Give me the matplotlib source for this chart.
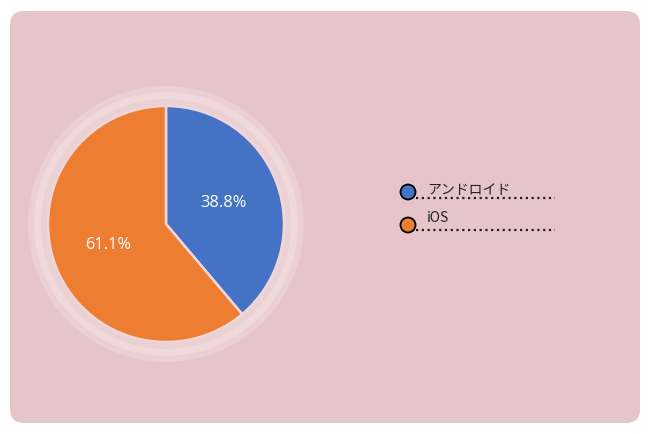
import matplotlib
matplotlib.use("Agg")
import matplotlib.pyplot as plt
from matplotlib.patches import FancyBboxPatch, Circle
import numpy as np

categories = ["アンドロイド", "iOS"]
values = [38.8, 61.1]
colors = ["#4472C4", "#ED7D31"]

W, H = 650, 434
fig = plt.figure(figsize=(W / 100, H / 100), dpi=100)
fig.patch.set_facecolor("white")
ax = fig.add_axes([0, 0, 1, 1])
ax.set_xlim(0, W)
ax.set_ylim(0, H)
ax.set_aspect("equal")
ax.axis("off")

def Y(y):
    return H - y

# panel
panel = FancyBboxPatch((10 + 14, Y(423) + 14), 630 - 28, 412 - 28,
                       boxstyle="round,pad=14", facecolor="#E5C5C7",
                       edgecolor="none", zorder=0)
ax.add_patch(panel)

cx, cy, r = 166, Y(224), 118
ax.add_patch(Circle((cx, cy), 138, facecolor="#EBCFD1", edgecolor="none", zorder=1))
ax.add_patch(Circle((cx, cy), 132, facecolor="#F0D9DA", edgecolor="none", zorder=1))
ax.add_patch(Circle((cx, cy), 125, facecolor="#EBD1D3", edgecolor="none", zorder=1))

wedges, _ = ax.pie(values, colors=colors, startangle=90, counterclock=False,
                   center=(cx, cy), radius=r, normalize=True, frame=True,
                   wedgeprops=dict(edgecolor="#F0D6D8", linewidth=1.8))
for w in wedges:
    w.set_zorder(2)
ax.set_xlim(0, W)
ax.set_ylim(0, H)
ax.axis("off")

fontlist = ["Open Sans", "Noto Sans CJK JP", "DejaVu Sans"]
pct_dist = 0.52
for w, v in zip(wedges, values):
    ang = np.deg2rad((w.theta1 + w.theta2) / 2)
    tx = cx + pct_dist * r * np.cos(ang)
    ty = cy + pct_dist * r * np.sin(ang)
    ax.text(tx, ty, f"{v:.1f}%", color="white", fontsize=11.8,
            ha="center", va="center", family=fontlist, zorder=3)

# legend
leg_y = [192, 225]
line_y = [198, 230]
text_y = [190, 218]
for i, (cat, col) in enumerate(zip(categories, colors)):
    ax.plot([416, 555], [Y(line_y[i])] * 2, linestyle=(0, (1, 1.6)),
            color="#222222", linewidth=1.6, zorder=3)
    ax.add_patch(Circle((408, Y(leg_y[i])), 7.5, facecolor=col,
                        edgecolor="black", linewidth=1.3, zorder=4))
    ax.text(427, Y(text_y[i]), cat, fontsize=10, color="#222222",
            ha="left", va="center", family=["Noto Sans CJK JP", "DejaVu Sans"],
            zorder=5)

fig.savefig("out.png", dpi=100, facecolor="white")
